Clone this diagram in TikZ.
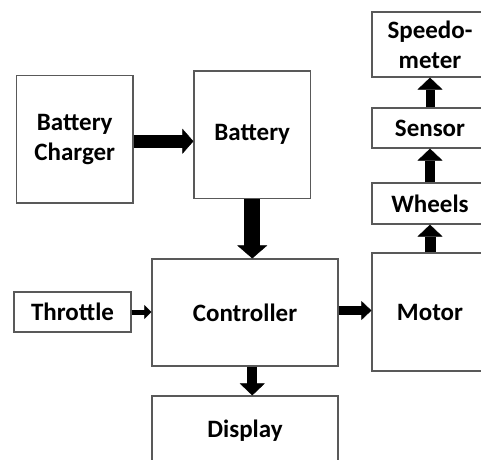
\documentclass[tikz,border=0pt]{standalone}
\usepackage{fontspec}
\setmainfont{Carlito}
\usepackage{tikz}
\usetikzlibrary{arrows.meta, positioning, calc}

\begin{document}
\begin{tikzpicture}[
        x=1pt, y=-1pt,
        block/.style={rectangle, draw=black!65, line width=1.2pt, fill=white, align=center, inner sep=0pt, font={\fontsize{25}{30}\selectfont\bfseries}},
        bigarrow/.style={draw=black, line width=#1},
        head/.style args={#1/#2}{-{Triangle[width=#1pt, length=#2pt, line width=0.4pt, color=black]}}
    ]
        \useasboundingbox (0,0) rectangle (481,459);
        % Blocks
        \node (charger) [block, minimum width=116.5pt, minimum height=127.5pt] at (74.75,139.25) {Battery\\Charger};
        \node (battery) [block, minimum width=116.5pt, minimum height=127.5pt] at (252.25,134.75) {Battery};
        \node (controller) [block, minimum width=186pt, minimum height=107pt] at (245,312.5) {Controller};
        \node (throttle) [block, minimum width=117pt, minimum height=40pt] at (72.5,312) {Throttle};
        \node (motor) [block, minimum width=116pt, minimum height=118pt] at (430,312) {Motor};
        \node (display) [block, minimum width=186pt, minimum height=70pt] at (245,431) {Display};
        \node (wheels) [block, minimum width=116pt, minimum height=41pt] at (430,203.5) {Wheels};
        \node (sensor) [block, minimum width=116pt, minimum height=40pt] at (430,128) {Sensor};
        \node (speedo) [block, minimum width=116pt, minimum height=65pt] at (430,44.5) {Speedo-\\meter};
        % Power path
        \draw [bigarrow=13pt, head=25/11] ([yshift=-2pt]charger.east) -- ([yshift=-2pt]charger.east -| battery.west);
        \draw [bigarrow=16pt, head=30/13] (battery.south) -- (battery.south |- controller.north);
        % Controller
        \draw [bigarrow=5pt, head=14/7] (throttle.east) -- (throttle.east -| controller.west);
        \draw [bigarrow=9pt, head=19/10] ([yshift=2pt]controller.east) -- ([yshift=2pt]controller.east -| motor.west);
        \draw [bigarrow=10pt, head=25/12] (battery.south |- controller.south) -- (battery.south |- display.north);
        % Motor chain
        \draw [bigarrow=11pt, head=25/12] (motor.north) -- (wheels.south);
        \draw [bigarrow=10pt, head=25/12] (wheels.north) -- (sensor.south);
        \draw [bigarrow=9pt, head=25/12] (sensor.north) -- (speedo.south);
    \end{tikzpicture}
\end{document}
